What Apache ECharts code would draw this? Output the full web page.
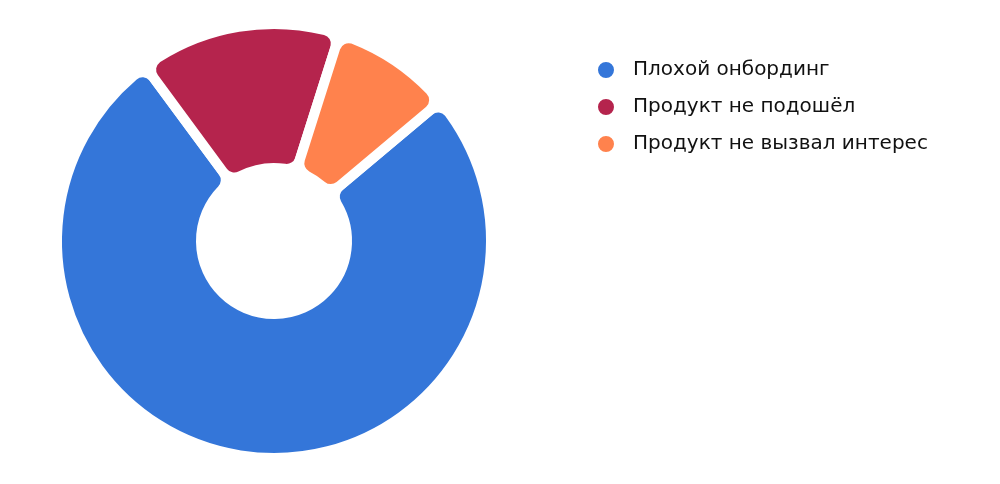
<!DOCTYPE html>
<html style="height: 100%">
<head>
<meta charset="utf-8">
<script src="https://cdn.jsdelivr.net/npm/echarts@6/dist/echarts.min.js"></script>
</head>
<body style="height: 100%; margin: 0; background: #fff">
<div id="container" style="width: 1000px; height: 484px"></div>
<script type="text/javascript">
var categories = ['Плохой онбординг', 'Продукт не подошёл', 'Продукт не вызвал интерес'];
var values = [76, 15, 9];
var colors = ['#3476D9', '#B5244D', '#FF824D'];

var chart = echarts.init(document.getElementById('container'));

var data = categories.map(function (name, i) {
    return { name: name, value: values[i], itemStyle: { color: colors[i] } };
});

chart.setOption({
    animation: false,
    legend: {
        orient: 'vertical',
        left: 591,
        top: 55,
        icon: 'circle',
        itemWidth: 18,
        itemHeight: 18,
        itemGap: 17,
        selectedMode: false,
        textStyle: {
            fontFamily: 'DejaVu Sans',
            fontSize: 20,
            lineHeight: 18,
            color: '#111',
            padding: [0, 0, 0, 13]
        },
        data: categories
    },
    series: [{
        type: 'pie',
        center: [274, 241],
        radius: [73, 217],
        startAngle: 40,
        clockwise: true,
        label: { show: false },
        labelLine: { show: false },
        silent: true,
        itemStyle: {
            borderColor: '#fff',
            borderWidth: 10,
            borderRadius: 14
        },
        data: data
    }]
});
</script>
</body>
</html>
